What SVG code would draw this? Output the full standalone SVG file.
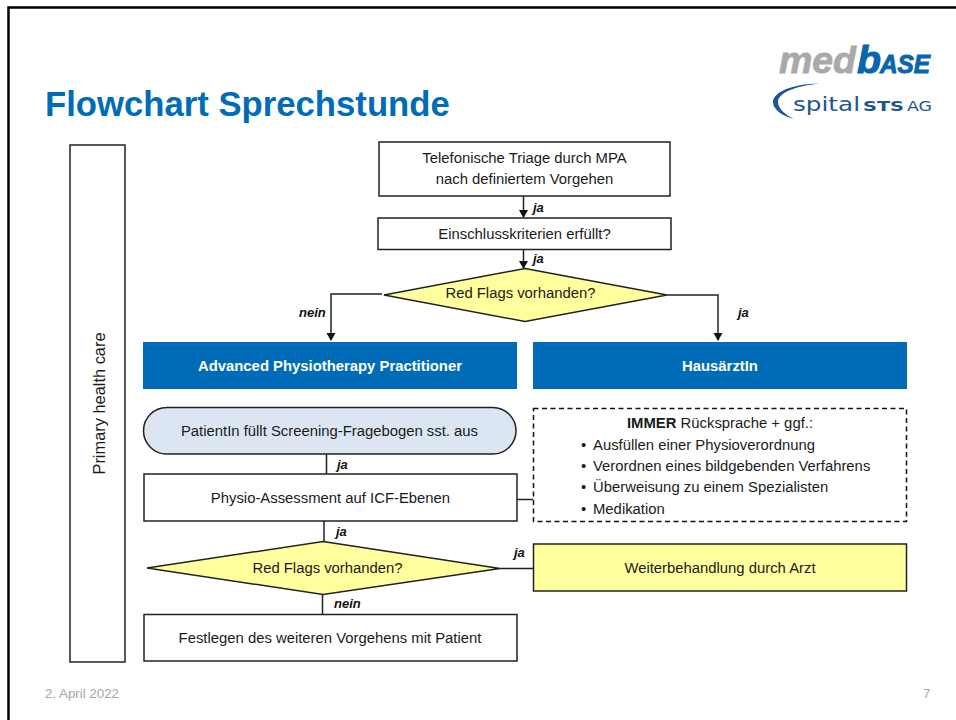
<svg xmlns="http://www.w3.org/2000/svg" width="956" height="720" viewBox="0 0 956 720">
<style>
text{font-family:"Liberation Sans",Arial,sans-serif;fill:#1a1a1a}
.t{font-size:14.850px;text-anchor:middle}
.l{font-size:13px;font-weight:bold;font-style:italic;fill:#111}
.box{fill:#fff;stroke:#222;stroke-width:1.5}
.dia{fill:#ffff9e;stroke:#222;stroke-width:1.5}
.blue{fill:#006cb8}
.w{font-size:14.850px;font-weight:bold;fill:#fff;text-anchor:middle}
.c{fill:none;stroke:#222;stroke-width:1.5}
.f{font-size:13.300px;fill:#a6a6a6}
.b{font-size:14.850px}
.s{font-family:"DejaVu Sans",sans-serif;fill:#1d5595}
</style>
<defs><marker id="a" markerUnits="userSpaceOnUse" markerWidth="8" markerHeight="10" refX="7" refY="4.5" orient="auto"><path d="M0 0L8 4.5L0 9Z" fill="#111"/></marker></defs>
<rect width="956" height="720" fill="#fff"/>
<path d="M8.500 720V7.500H956" fill="none" stroke="#000" stroke-width="2.500"/>
<text id="title" x="45" y="116" font-size="34.700" font-weight="bold" style="fill:#006cb8">Flowchart Sprechstunde</text>
<g id="logo">
<text x="779" y="73" font-size="36" font-weight="bold" font-style="italic" stroke="#a9a9a9" stroke-width="0.800" style="fill:#a9a9a9" textLength="77" lengthAdjust="spacingAndGlyphs">med</text>
<text x="857" y="73" font-size="38" font-weight="bold" font-style="italic" stroke="#0a64ae" stroke-width="1" style="fill:#0a64ae" textLength="24" lengthAdjust="spacingAndGlyphs">b</text>
<text x="880" y="73" font-size="26" font-weight="bold" font-style="italic" stroke="#0a64ae" stroke-width="1" style="fill:#0a64ae" textLength="50" lengthAdjust="spacingAndGlyphs">ASE</text>
<path d="M820 83.500C790 84 773 93 773 102C773 110 783 116 794 119C786 115 778 109 778 102C778 93 795 86 820 83.500Z" fill="#1d5595"/>
<text class="s" x="793" y="111" font-size="19" textLength="67" lengthAdjust="spacingAndGlyphs">spital</text>
<text class="s" x="863" y="111" font-size="14" font-weight="bold" textLength="41" lengthAdjust="spacingAndGlyphs">STS</text>
<text class="s" x="907" y="111" font-size="14" textLength="25" lengthAdjust="spacingAndGlyphs">AG</text>
</g>
<g id="connectors">
<path class="c" marker-end="url(#a)" d="M523.500 196V217"/>
<path class="c" marker-end="url(#a)" d="M523.500 250V268"/>
<path class="c" marker-end="url(#a)" d="M382 294H331V340"/>
<path class="c" marker-end="url(#a)" d="M667 295H718V340"/>
<path class="c" d="M326.500 454V474"/>
<path class="c" d="M324 521V541"/>
<path class="c" d="M322.500 595V614"/>
<path class="c" d="M517 499.500H533"/>
<path class="c" d="M500 568.500H533"/>
</g>
<g id="labels">
<text class="l" x="533" y="212">ja</text>
<text class="l" x="533" y="263">ja</text>
<text class="l" x="299" y="317">nein</text>
<text class="l" x="738" y="317">ja</text>
<text class="l" x="337" y="469">ja</text>
<text class="l" x="336" y="536">ja</text>
<text class="l" x="334" y="608">nein</text>
<text class="l" x="514" y="557">ja</text>
</g>
<g id="primary"><rect class="box" x="70" y="145" width="55" height="517"/><text class="t" style="font-size:16.400px" transform="translate(104.500 403.500) rotate(-90)">Primary health care</text></g>
<g id="triage"><rect class="box" x="379" y="142" width="291" height="54"/><text class="t" x="524.500" y="163">Telefonische Triage durch MPA</text><text class="t" x="524.500" y="184">nach definiertem Vorgehen</text></g>
<g id="einschluss"><rect class="box" x="378" y="218" width="293" height="31.500"/><text class="t" x="524.500" y="239">Einschlusskriterien erfüllt?</text></g>
<g id="redflags1"><path class="dia" d="M525 268.500L667 295L525 321.500L384 295Z"/><text class="t" x="520.500" y="298">Red Flags vorhanden?</text></g>
<g id="app"><rect class="blue" x="143" y="342" width="374" height="47"/><text class="w" x="330" y="371">Advanced Physiotherapy Practitioner</text></g>
<g id="hausarzt"><rect class="blue" x="533" y="342" width="374" height="47"/><text class="w" x="720" y="371">HausärztIn</text></g>
<g id="screening"><rect x="143.500" y="407.500" width="372.500" height="46.500" rx="23.250" fill="#dce6f2" stroke="#222" stroke-width="1.500"/><text class="t" x="329.500" y="436">PatientIn füllt Screening-Fragebogen sst. aus</text></g>
<g id="immer"><rect x="533.500" y="408.500" width="373" height="113" fill="#fff" stroke="#111" stroke-width="1.500" stroke-dasharray="5 3.500"/>
<text class="t" x="720" y="428"><tspan font-weight="bold">IMMER</tspan> Rücksprache + ggf.:</text>
<text class="b" x="581" y="450">•</text><text class="b" x="593" y="450">Ausfüllen einer Physioverordnung</text>
<text class="b" x="581" y="471">•</text><text class="b" x="593" y="471">Verordnen eines bildgebenden Verfahrens</text>
<text class="b" x="581" y="492">•</text><text class="b" x="593" y="492">Überweisung zu einem Spezialisten</text>
<text class="b" x="581" y="514">•</text><text class="b" x="593" y="514">Medikation</text></g>
<g id="assessment"><rect class="box" x="144" y="474" width="373" height="47"/><text class="t" x="330.500" y="503">Physio-Assessment auf ICF-Ebenen</text></g>
<g id="redflags2"><path class="dia" d="M323 541.500L500 568.500L323 594.500L147 568L323 541.500Z"/><text class="t" x="327.500" y="573">Red Flags vorhanden?</text></g>
<g id="weiter"><rect x="533.500" y="544" width="373" height="47" fill="#ffff9e" stroke="#222" stroke-width="1.500"/><text class="t" x="720" y="573">Weiterbehandlung durch Arzt</text></g>
<g id="festlegen"><rect class="box" x="144" y="614.500" width="373" height="46.500"/><text class="t" x="330" y="643">Festlegen des weiteren Vorgehens mit Patient</text></g>
<g id="footer"><text class="f" x="45" y="698">2. April 2022</text><text class="f" x="923" y="698">7</text></g>
</svg>
